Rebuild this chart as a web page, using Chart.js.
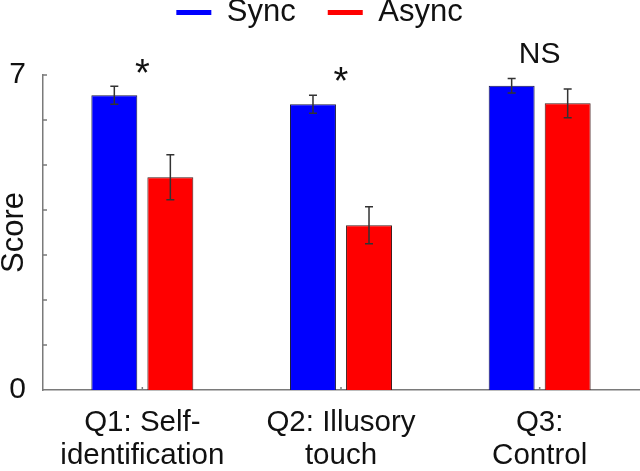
<!DOCTYPE html>
<html>
<head>
<meta charset="utf-8">
<script src="https://cdn.jsdelivr.net/npm/chart.js@4"></script>
<style>
  html, body { margin:0; padding:0; background:#fff; }
  #wrap { width:640px; height:471px; position:relative; }
</style>
</head>
<body>
<div id="wrap"><canvas id="scoreChart"></canvas></div>
<script>
// data
const categories = [['Q1: Self-','identification'], ['Q2: Illusory','touch'], ['Q3:','Control']];
const syncScores = [6.55, 6.35, 6.76];
const asyncScores = [4.73, 3.66, 6.37];
const syncErr = [0.20, 0.20, 0.16];
const asyncErr = [0.50, 0.41, 0.32];
const sigLabels = ['*', '*', 'NS'];
const sigLevel = [6.98, 6.80, 7.44];
const yTickLabels = { 0:'0', 7:'7' };

const FONT = "'Liberation Sans', Arial, sans-serif";
const AXIS_GREY = '#7a7a7a';

// error bars, drawn from the bar elements and the y scale
const errorBars = {
  id: 'errorBars',
  afterDatasetsDraw(chart){
    const ctx = chart.ctx, y = chart.scales.y;
    const errs = [syncErr, asyncErr];
    chart.data.datasets.forEach((ds, di) => {
      chart.getDatasetMeta(di).data.forEach((bar, i) => {
        const top = y.getPixelForValue(ds.data[i] + errs[di][i]);
        const bot = y.getPixelForValue(ds.data[i] - errs[di][i]);
        ctx.save();
        ctx.strokeStyle = '#333';
        ctx.lineWidth = 1.5;
        ctx.beginPath();
        ctx.moveTo(bar.x, top); ctx.lineTo(bar.x, bot);
        ctx.moveTo(bar.x - 4, top); ctx.lineTo(bar.x + 4, top);
        ctx.moveTo(bar.x - 4, bot); ctx.lineTo(bar.x + 4, bot);
        ctx.stroke();
        ctx.restore();
      });
    });
  }
};

// inward tick marks + significance labels
const extras = {
  id: 'extras',
  afterLayout(chart){
    // pull legend up to the top edge
    chart.legend.top -= 37;
    chart.legend.bottom -= 37;
  },
  afterDraw(chart){
    const ctx = chart.ctx, x = chart.scales.x, y = chart.scales.y;
    const area = chart.chartArea;
    ctx.save();
    ctx.strokeStyle = AXIS_GREY;
    ctx.lineWidth = 1.5;
    ctx.beginPath();
    y.ticks.forEach((t, i) => {
      if (t.value === 0) return;
      const py = y.getPixelForTick(i);
      ctx.moveTo(area.left, py); ctx.lineTo(area.left + 4, py);
    });
    x.ticks.forEach((t, i) => {
      const px = x.getPixelForTick(i);
      ctx.moveTo(px, area.bottom); ctx.lineTo(px, area.bottom - 3);
    });
    ctx.stroke();

    ctx.fillStyle = '#111';
    ctx.textAlign = 'center';
    ctx.textBaseline = 'middle';
    sigLabels.forEach((s, i) => {
      ctx.font = (s === '*' ? '38px ' : '30px ') + FONT;
      ctx.fillText(s, x.getPixelForValue(i), y.getPixelForValue(sigLevel[i]));
    });
    ctx.restore();
  }
};

new Chart(document.getElementById('scoreChart'), {
  type: 'bar',
  data: {
    labels: categories,
    datasets: [
      { label:'Sync', data:syncScores, backgroundColor:'#0000ff', borderColor:'#1a1a40', borderWidth:1 },
      { label:'Async', data:asyncScores, backgroundColor:'#ff0000', borderColor:'#401a1a', borderWidth:1 }
    ]
  },
  options: {
    responsive: true,
    maintainAspectRatio: false,
    animation: false,
    layout: { padding: { top: 2, right: 1, left: 0, bottom: 0 } },
    datasets: { bar: { categoryPercentage: 0.564, barPercentage: 0.82 } },
    plugins: {
      tooltip: { enabled: false },
      legend: {
        position: 'top',
        labels: {
          boxWidth: 35, boxHeight: 5, padding: 32,
          color: '#111',
          font: { family: FONT, size: 31 },
          generateLabels: chart => chart.data.datasets.map((ds, i) => ({
            text: ds.label, fillStyle: ds.backgroundColor, strokeStyle: ds.backgroundColor,
            lineWidth: 0, datasetIndex: i, fontColor: '#111'
          }))
        }
      }
    },
    scales: {
      x: {
        grid: { display: false, drawTicks: false },
        border: { display: true, color: AXIS_GREY, width: 1.5 },
        ticks: { color: '#111', padding: 16, maxRotation: 0, autoSkip: false,
                 font: { family: FONT, size: 29.5, lineHeight: 1.12 } },
        afterFit: s => { s.height = 81; }
      },
      y: {
        min: 0, max: 7,
        grid: { display: false, drawTicks: false },
        border: { display: true, color: AXIS_GREY, width: 1.5 },
        ticks: { stepSize: 1, color: '#111', padding: 17,
                 font: { family: FONT, size: 30 },
                 callback: v => yTickLabels[v] ?? '' },
        title: { display: true, text: 'Score', color: '#111', padding: 0,
                 font: { family: FONT, size: 31, lineHeight: 0.95 } },
        afterFit: s => { s.width = 43; }
      }
    }
  },
  plugins: [errorBars, extras]
});
</script>
</body>
</html>
